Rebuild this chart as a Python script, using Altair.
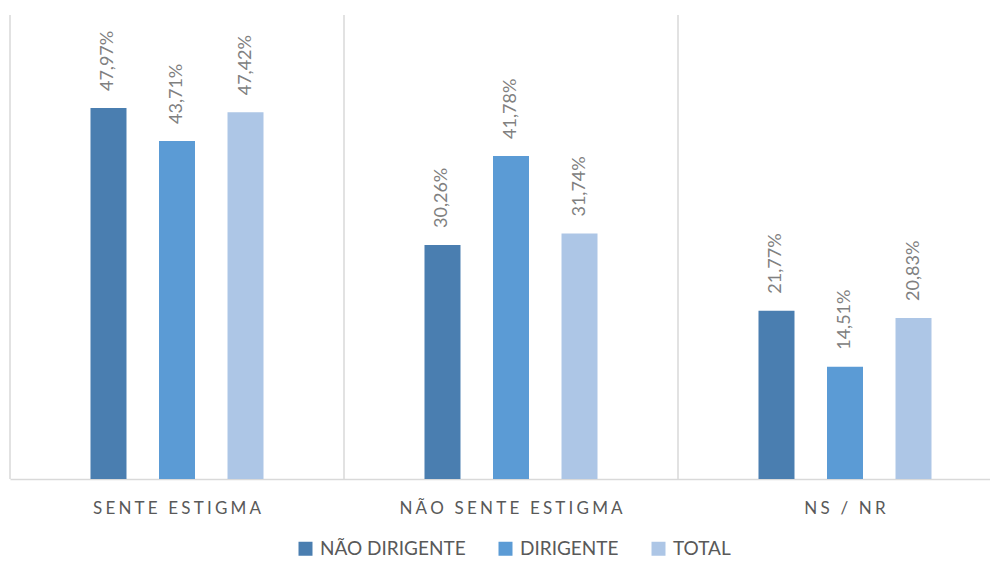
import altair as alt
import pandas as pd

categories = ["SENTE ESTIGMA", "NÃO SENTE ESTIGMA", "NS / NR"]
series = ["NÃO DIRIGENTE", "DIRIGENTE", "TOTAL"]
nao_dirigente = [47.97, 30.26, 21.77]
dirigente = [43.71, 41.78, 14.51]
total = [47.42, 31.74, 20.83]
colors = ["#4a7eb0", "#5b9bd5", "#adc6e6"]

rows = []
for s, vals in zip(series, [nao_dirigente, dirigente, total]):
    for c, v in zip(categories, vals):
        rows.append({"cat": c, "serie": s, "valor": v,
                     "rotulo": f"{v:.2f}".replace(".", ",") + "%"})
df = pd.DataFrame(rows)
sep_df = pd.DataFrame({"cat": categories})

FONT = "Lato"

x_enc = alt.X("cat:N", sort=categories,
              scale=alt.Scale(range=[0, 1002], paddingInner=0, paddingOuter=0),
              axis=alt.Axis(title=None, labelAngle=0, ticks=False,
                            labelAlign="center", bandPosition=0.5,
                            labelFlush=False, labelLimit=500, labelBound=False,
                            labelExpr="join(split(datum.label, ''), '\u2009\u200a')",
                            labelFont=FONT, labelFontSize=17, labelColor="#595959",
                            labelPadding=29, domainColor="#d9d9d9", domainWidth=1.5))
offset_domain = ["_pad_a"] + series + ["_pad_b"]
xoff = alt.XOffset("serie:N",
                   scale=alt.Scale(domain=offset_domain, paddingInner=0.4745,
                                   paddingOuter=0.175))
y_enc = alt.Y("valor:Q", scale=alt.Scale(domain=[0, 60]), axis=None)

bars = alt.Chart(df).mark_bar().encode(
    x=x_enc, xOffset=xoff, y=y_enc,
    color=alt.Color("serie:N", sort=series,
                    scale=alt.Scale(domain=series, range=colors),
                    legend=alt.Legend(title=None, orient="none", direction="horizontal",
                                      legendX=286, legendY=524,
                                      symbolType="square", symbolSize=196,
                                      symbolStrokeWidth=0, symbolOpacity=1,
                                      labelFont=FONT, labelFontSize=19,
                                      labelColor="#595959", labelOffset=5,
                                      columnPadding=30)),
)

labels = alt.Chart(df).mark_text(angle=270, align="left", baseline="middle",
                                 dx=17, font=FONT, fontSize=18,
                                 color="#808080").encode(
    x=x_enc, xOffset=xoff, y=y_enc, text="rotulo:N"
)

seps = alt.Chart(sep_df).mark_rule(color="#d9d9d9", strokeWidth=1.5).encode(
    x=alt.X("cat:N", sort=categories, bandPosition=0)
)

chart = alt.layer(seps, bars, labels).properties(
    width=980, height=464,
    autosize=alt.AutoSizeParams(type="none"),
    padding={"left": 2, "top": 7, "right": 0, "bottom": 80},
).configure_view(stroke=None)

chart.save("out.html", embed_options={"renderer": "svg", "actions": False})
